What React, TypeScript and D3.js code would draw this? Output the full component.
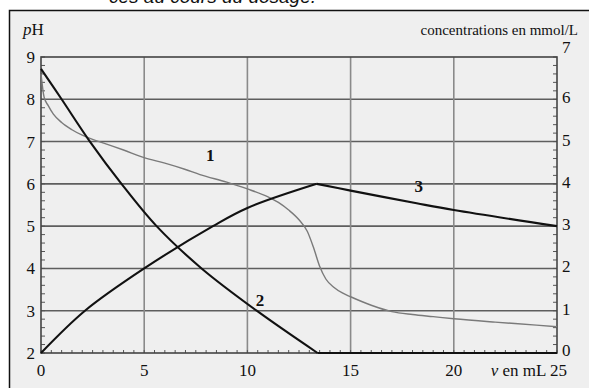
import React, { useEffect, useRef } from 'react';
import * as d3 from 'd3';

// volume (mL) and pH for curve 1
const v1 = [0, 0.15, 0.35, 0.6, 1, 1.5, 2, 2.5, 3, 4, 5, 6, 7, 7.7, 9, 10, 11, 11.5, 12, 12.5, 12.9, 13.2, 13.5, 13.8, 14.2, 14.6, 15, 16, 17, 18, 19, 20, 22, 24, 25];
const ph1 = [8.6, 8.05, 7.85, 7.65, 7.45, 7.28, 7.15, 7.05, 6.97, 6.8, 6.62, 6.49, 6.34, 6.22, 6.04, 5.88, 5.69, 5.56, 5.38, 5.15, 4.88, 4.5, 4.05, 3.75, 3.55, 3.42, 3.33, 3.13, 2.98, 2.91, 2.86, 2.81, 2.73, 2.66, 2.62];

// curve 2 : concentration (mmol/L)
const v2 = [0, 1, 2.37, 3.9, 5.6, 7.78, 10.45, 13.4];
const c2 = [6.72, 6.0, 5.0, 4.0, 3.0, 2.0, 1.0, 0];
const v2flat = [13.4, 25];
const c2flat = [0, 0];

// curve 3 : concentration (mmol/L)
const v3up = [0, 2.13, 5, 8.33, 10, 13.36];
const c3up = [0, 1.0, 2.0, 3.0, 3.43, 4.0];
const v3down = [13.36, 15, 18.2, 20, 25];
const c3down = [4.0, 3.84, 3.54, 3.38, 3.0];

const xTicks = [0, 5, 10, 15, 20];
const phTicks = [2, 3, 4, 5, 6, 7, 8, 9];
const concTicks = [0, 1, 2, 3, 4, 5, 6, 7];
const curveLabels = ['1', '2', '3'];

const App = () => {
  const ref = useRef<SVGSVGElement>(null);

  useEffect(() => {
    const svg = d3.select(ref.current);
    svg.selectAll('*').remove();

    const x = d3.scaleLinear().domain([0, 25]).range([41, 557]);
    const yPh = d3.scaleLinear().domain([2, 9]).range([353, 57]);
    const yC = d3.scaleLinear().domain([0, 7]).range([353, 57]);
    const serif = '"Liberation Serif", "DejaVu Serif", serif';

    // caption above the frame, cut by the picture's top edge
    svg.append('text')
      .attr('x', 316).attr('y', 3)
      .attr('text-anchor', 'end')
      .attr('font-family', 'Liberation Sans, Arial, sans-serif')
      .attr('font-style', 'italic')
      .attr('font-size', 19)
      .attr('fill', '#111')
      .text('ces au cours du dosage.');

    // frame
    svg.append('rect')
      .attr('x', 9.5).attr('y', 10.5)
      .attr('width', 600).attr('height', 400)
      .attr('fill', '#efefef')
      .attr('stroke', '#111')
      .attr('stroke-width', 1.5);

    const [x0, x1] = x.range();
    const [yb, yt] = yPh.range();

    // grid
    svg.append('g').selectAll('line')
      .data(d3.range(3, 9))
      .join('line')
      .attr('x1', x0).attr('x2', x1)
      .attr('y1', d => yPh(d)).attr('y2', d => yPh(d))
      .attr('stroke', '#5e5e5e').attr('stroke-width', 1.6);
    svg.append('g').selectAll('line')
      .data(xTicks.slice(1))
      .join('line')
      .attr('x1', d => x(d)).attr('x2', d => x(d))
      .attr('y1', yt).attr('y2', yb)
      .attr('stroke', '#8a8a8a').attr('stroke-width', 1.6);

    // minor ticks
    const minor = svg.append('g').attr('stroke', '#555').attr('stroke-width', 1);
    d3.range(2, 9.001, 0.2).forEach(p => {
      minor.append('line').attr('x1', x0).attr('x2', x0 + 4).attr('y1', yPh(p)).attr('y2', yPh(p));
      minor.append('line').attr('x1', x1 - 4).attr('x2', x1).attr('y1', yPh(p)).attr('y2', yPh(p));
    });
    d3.range(0, 25.001, 0.5).forEach(v => {
      minor.append('line').attr('x1', x(v)).attr('x2', x(v)).attr('y1', yb).attr('y2', yb - 3);
    });

    // plot box
    svg.append('rect')
      .attr('x', x0).attr('y', yt)
      .attr('width', x1 - x0).attr('height', yb - yt)
      .attr('fill', 'none')
      .attr('stroke', '#444').attr('stroke-width', 1.6);

    // curves
    const smooth = d3.curveCatmullRom.alpha(0.5);
    const phLine = d3.line<number>().x((d, i) => x(v1[i])).y(d => yPh(d)).curve(d3.curveMonotoneX);
    svg.append('path').attr('d', phLine(ph1))
      .attr('fill', 'none').attr('stroke', '#7a7a7a').attr('stroke-width', 1.4);

    const cLine = (vs: number[]) => d3.line<number>().x((d, i) => x(vs[i])).y(d => yC(d)).curve(smooth);
    [[v2, c2], [v2flat, c2flat], [v3up, c3up], [v3down, c3down]].forEach(([vs, cs]) => {
      svg.append('path').attr('d', cLine(vs)(cs))
        .attr('fill', 'none').attr('stroke', '#111').attr('stroke-width', 2.1)
        .attr('stroke-linejoin', 'round');
    });

    // tick labels
    const lab = (sel: any) => sel.attr('font-family', serif).attr('font-size', 17).attr('fill', '#111');
    svg.append('g').selectAll('text').data(phTicks).join('text')
      .attr('x', 35).attr('y', d => yPh(d) + 6).attr('text-anchor', 'end')
      .text(d => d).call(lab);
    svg.append('g').selectAll('text').data(concTicks).join('text')
      .attr('x', 562).attr('y', d => yC(d) + 4 - (d === 7 ? 8 : 0) + (d === 0 ? -1 : 0))
      .text(d => d).call(lab);
    svg.append('g').selectAll('text').data(xTicks).join('text')
      .attr('x', d => x(d)).attr('y', 376).attr('text-anchor', 'middle')
      .text(d => d).call(lab);

    const xl = svg.append('text').attr('x', 567).attr('y', 376).attr('text-anchor', 'end').call(lab);
    xl.append('tspan').attr('font-style', 'italic').text('v');
    xl.append('tspan').text(' en mL 25');

    const phl = svg.append('text').attr('x', 23).attr('y', 35).call(lab);
    phl.append('tspan').attr('font-style', 'italic').text('p');
    phl.append('tspan').text('H');

    svg.append('text').attr('x', 578).attr('y', 35).attr('text-anchor', 'end')
      .attr('font-family', serif).attr('font-size', 15).attr('fill', '#111')
      .text('concentrations en mmol/L');

    // curve numbers
    const pos = [[8, 6.55, 'ph'], [10.4, 1.1, 'c'], [18.1, 3.8, 'c']];
    curveLabels.forEach((t, i) => {
      const [v, val, kind] = pos[i] as [number, number, string];
      svg.append('text')
        .attr('x', x(v)).attr('y', kind === 'ph' ? yPh(val) : yC(val))
        .attr('font-family', serif).attr('font-size', 17).attr('font-weight', 'bold')
        .attr('fill', '#111').text(t);
    });
  }, []);

  return (
    <svg ref={ref} width={589} height={388}
      style={{ position: 'absolute', left: 0, top: 0, background: '#fff' }} />
  );
};

export default App;
